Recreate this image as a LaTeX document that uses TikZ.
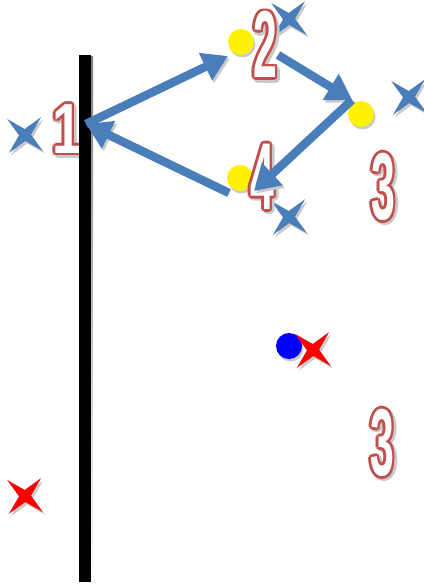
\documentclass[tikz,border=0pt]{standalone}
\usepackage{fontspec}
\usepackage{graphicx}
\usepackage{tikz}
\usetikzlibrary{arrows.meta,shapes.geometric,shadows}
\newfontfamily\numfont[FakeStretch=0.45]{Liberation Sans Bold}
\newfontfamily\onefont[FakeStretch=0.75]{Liberation Sans Bold}
\definecolor{steel}{HTML}{4A7EBB}
\definecolor{brick}{HTML}{C0504D}
\definecolor{shade}{HTML}{CACACA}
% outlined digit: copies round the glyph, white glyph on top
\newcommand\ringcopies[2]{%
  \foreach \dx/\dy in {2.8/0,2/2,0/2.8,-2/2,-2.8/0,-2/-2,0/-2.8,2/-2}%
    {\rlap{\hspace*{\dx pt}\raisebox{\dy pt}{\color{#1}#2}}}}
\newcommand\ringdigit[1]{%
  \rlap{\hspace*{2.5pt}\raisebox{-2.5pt}{\ringcopies{shade}{#1}}}%
  \ringcopies{brick}{#1}{\color{white}#1}}
\tikzset{
  % --- nodes
  spot/.style  = {circle, inner sep=0pt, minimum size=26pt, draw=none,
                  drop shadow={shadow xshift=1.5pt, shadow yshift=-2.5pt, fill=shade, opacity=1}},
  spark/.style = {star, star points=4, star point ratio=4, minimum size=48pt,
                  inner sep=0pt, draw=none, rotate=48,
                  drop shadow={shadow xshift=2pt, shadow yshift=-2.5pt, fill=shade, opacity=1}},
  digit/.style = {inner sep=0pt, font=\numfont\fontsize{95}{95}\selectfont},
  % --- edges
  flow/.style  = {line width=8.5pt, draw=steel, -{Triangle[width=29pt,length=25pt]},
                  preaction={draw=shade, transform canvas={shift={(2pt,-2.5pt)}}}},
}
\begin{document}
\begin{tikzpicture}[x=1pt,y=-1pt]
  \useasboundingbox (0,0) rectangle (423,585);
  % stars
  \node[spark, fill=steel] (s1) at (25,135) {};
  \node[spark, fill=steel] (s2) at (289,19) {};
  \node[spark, fill=steel] (s3) at (409,97) {};
  \node[spark, fill=steel] (s4) at (289,217) {};
  % dots
  \node[spot, fill=yellow] (p2) at (241,42) {};
  \node[spot, fill=yellow] (p3) at (361,114) {};
  \node[spot, fill=yellow] (p4) at (240,178) {};
  \node[spot, fill=blue] (ball) at (289,346) {};
  \node[spark, fill=red] (r1) at (313,350) {};
  \node[spark, fill=red] (r2) at (25,496) {};
  % numbers
  \node[digit, font=\onefont\fontsize{71}{71}\selectfont] (n1) at (67,130) {\ringdigit{1}};
  \node[digit] (n2) at (265,46) {\ringdigit{2}};
  \node[digit] (n4) at (262,178) {\ringdigit{4}};
  \node[digit] (n3) at (383,188) {\ringdigit{3}};
  \node[digit] (m3) at (382,444) {\ringdigit{3}};
  % pole
  \fill[shade] (81,57) rectangle (93,584);
  \fill[black] (79,55) rectangle (91,582);
  % loop
  \coordinate (hub) at (86,124);
  \coordinate (top) at (228,56);
  \coordinate (topout) at (278,55);
  \coordinate (east) at (352,100);
  \coordinate (low) at (254,191);
  \coordinate (lowout) at (229,193);
  \draw[flow] (hub) -- (top);
  \draw[flow] (topout) -- (east);
  \draw[flow] (east) -- (low);
  \draw[flow] (lowout) -- (hub);
\end{tikzpicture}
\end{document}
